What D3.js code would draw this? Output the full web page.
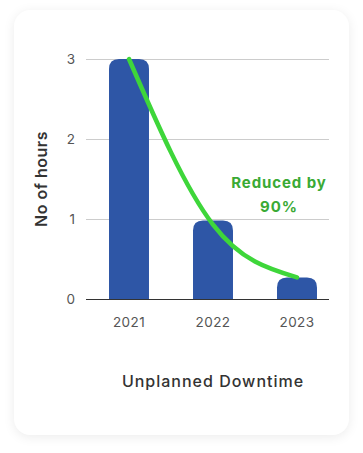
<!DOCTYPE html>
<html>
<head>
<meta charset="utf-8">
<script src="https://cdn.jsdelivr.net/npm/d3@7"></script>
<style>
  html, body { margin: 0; padding: 0; background: #ffffff; }
  .card {
    position: absolute; left: 14px; top: 10px; width: 335px; height: 425px;
    background: #fff; border-radius: 16px;
    box-shadow: 0 2px 12px rgba(0, 0, 0, 0.08);
  }
  svg { position: absolute; left: 0; top: 0; }
</style>
</head>
<body>
<div class="card"></div>
<svg id="chart" width="363" height="453"></svg>
<script>
// Data
const years = ['2021', '2022', '2023'];
const hours = [3, 0.98, 0.27];
const trend = [3, 0.93, 0.27];
const yTicks = [0, 1, 2, 3];

const svg = d3.select('#chart');
const font = 'Inter, "Open Sans", sans-serif';

const x = d3.scaleBand()
  .domain(years)
  .range([87, 339])
  .paddingInner(0.524)
  .paddingOuter(0.262);

const y = d3.scaleLinear()
  .domain([0, 3])
  .range([299, 59]);

const xLeft = 86, xRight = 329;

// Gridlines
svg.append('g')
  .selectAll('line')
  .data(yTicks)
  .join('line')
  .attr('x1', xLeft)
  .attr('x2', xRight)
  .attr('y1', (d) => y(d) + 0.5)
  .attr('y2', (d) => y(d) + 0.5)
  .attr('stroke', (d) => d === 0 ? '#333' : '#cccccc')
  .attr('stroke-width', 1);

// Y tick labels
svg.append('g')
  .selectAll('text')
  .data(yTicks)
  .join('text')
  .attr('x', 75)
  .attr('y', (d) => y(d))
  .attr('dy', '0.36em')
  .attr('text-anchor', 'end')
  .attr('font-family', font)
  .attr('font-size', 13.5)
  .attr('fill', '#555')
  .text((d) => d);

// Bars with rounded tops
const r = 10;
function barPath(d, i) {
  const x0 = x(d), w = x.bandwidth();
  const top = y(hours[i]), bottom = y(0);
  const rr = Math.min(r, (bottom - top));
  return `M${x0},${bottom}V${top + rr}Q${x0},${top} ${x0 + rr},${top}` +
    `H${x0 + w - rr}Q${x0 + w},${top} ${x0 + w},${top + rr}V${bottom}Z`;
}

svg.append('g')
  .selectAll('path')
  .data(years)
  .join('path')
  .attr('d', barPath)
  .attr('fill', '#2e56a6');

// Baseline on top of bars
svg.append('line')
  .attr('x1', xLeft).attr('x2', xRight)
  .attr('y1', y(0) + 0.5).attr('y2', y(0) + 0.5)
  .attr('stroke', '#333');

// X labels
svg.append('g')
  .selectAll('text')
  .data(years)
  .join('text')
  .attr('x', (d) => x(d) + x.bandwidth() / 2)
  .attr('y', 327)
  .attr('text-anchor', 'middle')
  .attr('font-family', font)
  .attr('font-size', 13.5)
  .attr('letter-spacing', 0.4)
  .attr('fill', '#555')
  .text((d) => d);

// Trend curve
const line = d3.line()
  .x((d, i) => x(years[i]) + x.bandwidth() / 2)
  .y((d) => y(d))
  .curve(d3.curveNatural);

svg.append('path')
  .datum(trend)
  .attr('d', line)
  .attr('fill', 'none')
  .attr('stroke', '#3ed63a')
  .attr('stroke-width', 4.5)
  .attr('stroke-linecap', 'round');

// Annotation
const note = svg.append('text')
  .attr('text-anchor', 'middle')
  .attr('font-family', font)
  .attr('font-size', 15)
  .attr('font-weight', 700)
  .attr('letter-spacing', 0.9)
  .attr('fill', '#3aaa35');
note.append('tspan').attr('x', 279).attr('y', 188).text('Reduced by');
note.append('tspan').attr('x', 279).attr('y', 212).text('90%');

// Y axis title
svg.append('text')
  .attr('transform', 'translate(47,179) rotate(-90)')
  .attr('text-anchor', 'middle')
  .attr('font-family', font)
  .attr('font-size', 16)
  .attr('font-weight', 600)
  .attr('letter-spacing', 0.5)
  .attr('fill', '#333')
  .text('No of hours');

// Chart title
svg.append('text')
  .attr('x', 213)
  .attr('y', 387)
  .attr('text-anchor', 'middle')
  .attr('font-family', font)
  .attr('font-size', 16)
  .attr('font-weight', 500)
  .attr('letter-spacing', 1)
  .attr('fill', '#333')
  .text('Unplanned Downtime');
</script>
</body>
</html>
